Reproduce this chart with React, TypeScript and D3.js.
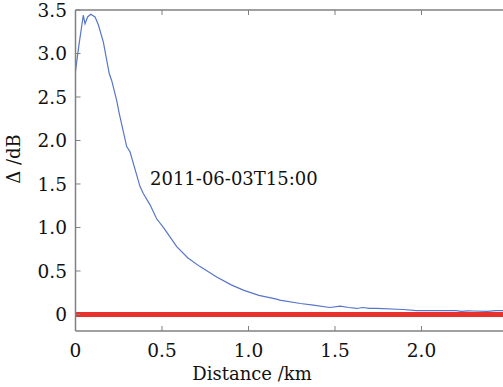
import React from "react";
import * as d3 from "d3";

const distanceKm = [0, 0.02, 0.045, 0.055, 0.07, 0.088, 0.113, 0.132, 0.161, 0.195, 0.209, 0.238, 0.253, 0.296, 0.315, 0.373, 0.392, 0.431, 0.469, 0.508, 0.585, 0.65, 0.72, 0.816, 0.9, 0.97, 1.06, 1.163, 1.18, 1.3, 1.375, 1.47, 1.53, 1.58, 1.625, 1.66, 1.7, 1.74, 1.895, 1.97, 2.2, 2.23, 2.27, 2.3, 2.38, 2.43, 2.5];
const deltaDb = [2.8, 3.1, 3.44, 3.34, 3.42, 3.45, 3.42, 3.33, 3.13, 2.77, 2.69, 2.46, 2.31, 1.93, 1.87, 1.47, 1.39, 1.26, 1.1, 1.0, 0.78, 0.65, 0.55, 0.43, 0.34, 0.28, 0.22, 0.176, 0.165, 0.126, 0.107, 0.08, 0.095, 0.08, 0.069, 0.08, 0.07, 0.069, 0.057, 0.045, 0.045, 0.035, 0.042, 0.04, 0.035, 0.045, 0.045];
const xTicks = [0, 0.5, 1.0, 1.5, 2.0];
const yTicks = [0, 0.5, 1.0, 1.5, 2.0, 2.5, 3.0, 3.5];
const annotation = "2011-06-03T15:00";
const xLabel = "Distance /km";
const yLabel = "Δ /dB";

export default function App() {
  const W = 503, H = 387;
  const left = 75.5, top = 10, bottom = 331;
  const x = d3.scaleLinear().domain([0, 2.5]).range([left, left + 2.5 * 173]);
  const y = d3.scaleLinear().domain([-0.19, 3.5]).range([bottom, top]);
  const line = d3.line<number>().x((_, i) => x(distanceKm[i])).y((d) => y(d));
  const font = "'DejaVu Serif', serif";
  const axisColor = "#808080";
  return (
    <svg width={W} height={H} style={{ position: "fixed", left: 0, top: 0, background: "#fff" }}>
      <defs>
        <clipPath id="plot">
          <rect x={left} y={top} width={W - left} height={bottom - top} />
        </clipPath>
      </defs>
      <g clipPath="url(#plot)">
        <line x1={x(0)} x2={x(2.5)} y1={y(0)} y2={y(0)} stroke="#e8302c" strokeWidth={5} />
        <path d={line(deltaDb) || ""} fill="none" stroke="#5676c9" strokeWidth={1.2} />
      </g>
      <line x1={left} x2={left} y1={top} y2={bottom} stroke={axisColor} strokeWidth={1.5} />
      <line x1={left} x2={W} y1={bottom} y2={bottom} stroke={axisColor} strokeWidth={1.5} />
      <line x1={left} x2={W} y1={top} y2={top} stroke={axisColor} strokeWidth={1.5} />
      {xTicks.map((t) => (
        <g key={"x" + t}>
          {t > 0 && <line x1={x(t)} x2={x(t)} y1={bottom} y2={bottom - 5} stroke={axisColor} />}
          {t > 0 && <line x1={x(t)} x2={x(t)} y1={top} y2={top + 5} stroke={axisColor} />}
          <text x={x(t)} y={357} textAnchor="middle" fontFamily={font} fontSize={18.5} fill="#111">
            {t === 0 ? "0" : t.toFixed(1)}
          </text>
        </g>
      ))}
      {yTicks.map((t) => (
        <g key={"y" + t}>
          <line x1={left} x2={left + 5} y1={y(t)} y2={y(t)} stroke={axisColor} />
          <text x={67} y={y(t)} dy="0.36em" textAnchor="end" fontFamily={font} fontSize={18.5} fill="#111">
            {t === 0 ? "0" : t.toFixed(1)}
          </text>
        </g>
      ))}
      <text x={252} y={380} textAnchor="middle" fontFamily={font} fontSize={18} fill="#111">{xLabel}</text>
      <text transform="translate(20,159) rotate(-90)" textAnchor="middle" fontFamily={font} fontSize={18} fill="#111">{yLabel}</text>
      <text x={150} y={185} fontFamily={font} fontSize={18} fill="#111">{annotation}</text>
    </svg>
  );
}
